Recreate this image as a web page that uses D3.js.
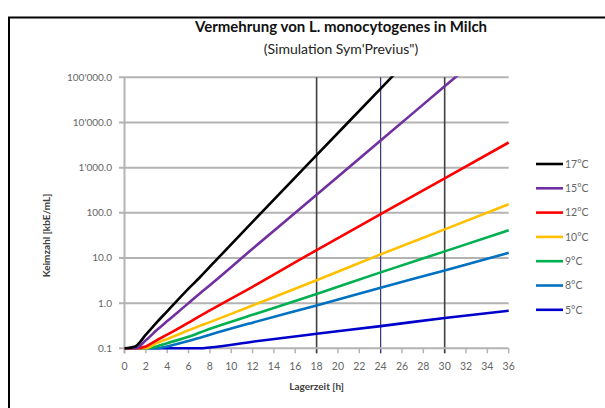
<!DOCTYPE html>
<html>
<head>
<meta charset="utf-8">
<script src="https://cdn.jsdelivr.net/npm/d3@7"></script>
<style>
  body { margin: 0; background: #fff; }
  svg { display: block; font-family: Lato, "Open Sans", sans-serif; }
</style>
</head>
<body>
<svg id="svg" width="605" height="408"></svg>
<script>
// time points (h)
const hours = [0, 1, 2, 3, 4, 6, 7, 8, 12, 18, 24, 30, 36];

// Keimzahl [kbE/mL] per temperature
const t17 = [0.1, 0.11, 0.2, 0.37, 0.66, 2.1, 3.6, 6.4, 63, 1900, 56000, 1700000, 50000000];
const t15 = [0.1, 0.1, 0.15, 0.25, 0.4, 1.0, 1.6, 2.5, 16, 250, 4000, 63000, 1000000];
const t12 = [0.1, 0.1, 0.11, 0.15, 0.2, 0.37, 0.51, 0.69, 2.3, 15, 93, 580, 3600];
const t10 = [0.1, 0.1, 0.1, 0.13, 0.16, 0.25, 0.31, 0.38, 0.89, 3.2, 12, 43, 155];
const t9 = [0.1, 0.1, 0.1, 0.11, 0.13, 0.18, 0.22, 0.27, 0.55, 1.6, 4.8, 14, 41];
const t8 = [0.1, 0.1, 0.1, 0.1, 0.11, 0.145, 0.17, 0.2, 0.37, 0.89, 2.2, 5.3, 13];
const t5 = [0.1, 0.1, 0.1, 0.1, 0.1, 0.1, 0.1, 0.104, 0.14, 0.21, 0.31, 0.47, 0.68];

const seriesNames = ["17°C", "15°C", "12°C", "10°C", "9°C", "8°C", "5°C"];
const seriesValues = [t17, t15, t12, t10, t9, t8, t5];

const yTicks = [0.1, 1, 10, 100, 1000, 10000, 100000];
const yTickLabels = ["0.1", "1.0", "10.0", "100.0", "1'000.0", "10'000.0", "100'000.0"];
const xTicks = d3.range(0, 37, 2);
const markerHours = [18, 24, 30];

const colors = ["#000000", "#7030A0", "#FF0000", "#FFC000", "#00B050", "#0070C0", "#0000CC"];
const markerColors = ["#404040", "#35357A", "#404040"];

const svg = d3.select("#svg");

// outer frame
svg.append("rect")
  .attr("x", 9).attr("y", 17.5)
  .attr("width", 640).attr("height", 420)
  .attr("fill", "none")
  .attr("stroke", "#000")
  .attr("stroke-width", 2);

// titles
svg.append("text")
  .attr("x", 341).attr("y", 32)
  .attr("text-anchor", "middle")
  .attr("font-size", 15).attr("font-weight", "bold")
  .attr("fill", "#111")
  .text("Vermehrung von L. monocytogenes in Milch");
svg.append("text")
  .attr("x", 341).attr("y", 54)
  .attr("text-anchor", "middle")
  .attr("font-size", 14)
  .attr("fill", "#222")
  .text("(Simulation Sym'Previus\")");

const xScale = d3.scaleLinear().domain([0, 36]).range([124.5, 508.7]);
const yScale = d3.scaleLog().domain([0.1, 100000]).range([348.3, 77.3]);

// horizontal grid + y ticks
svg.append("g")
  .selectAll("line")
  .data(yTicks.slice(1))
  .enter()
  .append("line")
  .attr("x1", 119).attr("x2", xScale(36))
  .attr("y1", d => yScale(d)).attr("y2", d => yScale(d))
  .attr("stroke", "#b3b3b3").attr("stroke-width", 2);

// y labels
svg.append("g")
  .selectAll("text")
  .data(yTicks)
  .enter()
  .append("text")
  .attr("x", 112)
  .attr("y", d => yScale(d) + 3.5)
  .attr("text-anchor", "end")
  .attr("font-size", 10)
  .attr("fill", "#666")
  .text((d, i) => yTickLabels[i]);

// x axis ticks
svg.append("g")
  .selectAll("line")
  .data(xTicks)
  .enter()
  .append("line")
  .attr("x1", d => xScale(d)).attr("x2", d => xScale(d))
  .attr("y1", yScale(0.1)).attr("y2", yScale(0.1) + 5)
  .attr("stroke", "#b3b3b3").attr("stroke-width", 1.5);

svg.append("g")
  .selectAll("text")
  .data(xTicks)
  .enter()
  .append("text")
  .attr("x", d => xScale(d))
  .attr("y", 370)
  .attr("text-anchor", "middle")
  .attr("font-size", 10.5)
  .attr("fill", "#666")
  .text(d => d);

// marker verticals at 18/24/30 h
svg.append("g")
  .selectAll("line")
  .data(markerHours)
  .enter()
  .append("line")
  .attr("x1", d => xScale(d)).attr("x2", d => xScale(d))
  .attr("y1", yScale(100000)).attr("y2", yScale(0.1) + 5)
  .attr("stroke", (d, i) => markerColors[i])
  .attr("stroke-width", (d, i) => i === 1 ? 1.2 : 1.6);

// axis lines
svg.append("line")
  .attr("x1", xScale(0)).attr("x2", xScale(0))
  .attr("y1", yScale(100000)).attr("y2", yScale(0.1) + 5)
  .attr("stroke", "#b3b3b3").attr("stroke-width", 2);
svg.append("line")
  .attr("x1", 119).attr("x2", xScale(36))
  .attr("y1", yScale(0.1)).attr("y2", yScale(0.1))
  .attr("stroke", "#b3b3b3").attr("stroke-width", 2);

// clip for series
svg.append("clipPath").attr("id", "plot")
  .append("rect")
  .attr("x", xScale(0)).attr("y", yScale(100000) - 1)
  .attr("width", xScale(36) - xScale(0) + 2)
  .attr("height", yScale(0.1) - yScale(100000) + 3);

const line = d3.line()
  .x((d, i) => xScale(hours[i]))
  .y(d => yScale(d))
  .curve(d3.curveMonotoneX);

svg.append("g")
  .attr("clip-path", "url(#plot)")
  .selectAll("path")
  .data(seriesValues.slice().reverse())
  .enter()
  .append("path")
  .attr("d", d => line(d))
  .attr("fill", "none")
  .attr("stroke", (d, i) => colors[colors.length - 1 - i])
  .attr("stroke-width", 2.6);

// axis titles
svg.append("text")
  .attr("x", xScale(18)).attr("y", 390)
  .attr("text-anchor", "middle")
  .attr("font-size", 10).attr("font-weight", "bold")
  .attr("fill", "#404040")
  .text("Lagerzeit [h]");
svg.append("text")
  .attr("transform", `translate(50, ${yScale(31.6)}) rotate(-90)`)
  .attr("text-anchor", "middle")
  .attr("font-size", 10).attr("font-weight", "bold")
  .attr("fill", "#404040")
  .text("Keimzahl [kbE/mL]");

// legend
const legend = svg.append("g")
  .selectAll("g")
  .data(seriesNames)
  .enter()
  .append("g")
  .attr("transform", (d, i) => `translate(536, ${164 + i * 24.3})`);
legend.append("line")
  .attr("x1", 0).attr("x2", 27)
  .attr("stroke", (d, i) => colors[i])
  .attr("stroke-width", 2.6);
legend.append("text")
  .attr("x", 29).attr("y", 3.8)
  .attr("font-size", 10.5)
  .attr("fill", "#666")
  .text(d => d);
</script>
</body>
</html>
